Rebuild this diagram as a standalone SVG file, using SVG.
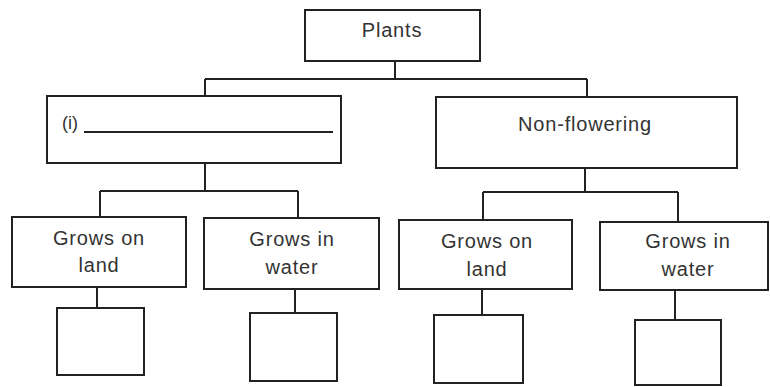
<svg xmlns="http://www.w3.org/2000/svg" width="770" height="387" viewBox="0 0 770 387">
<style>
.box{fill:#fff;stroke:#222;stroke-width:2}
.ln{fill:none;stroke:#222;stroke-width:2}
.t{font-family:"Liberation Sans",Arial,sans-serif;font-size:20px;letter-spacing:0.8px;fill:#333;text-anchor:middle}
</style>
<rect width="770" height="387" fill="#fff"/>
<g id="connectors">
<path class="ln" d="M395 61V79M205 79H587M205 79V96M587 79V97"/>
<path class="ln" d="M205 163V191M100 191H298M100 191V217M298 191V218"/>
<path class="ln" d="M585 168V192M483 192H678M483 192V220M678 192V222"/>
<path class="ln" d="M97 287V308M295 289V313M482 289V315M675 290V320"/>
</g>
<g id="plants"><rect class="box" x="305" y="10" width="175" height="51"/><text class="t" x="392" y="37">Plants</text></g>
<g id="flowering"><rect class="box" x="47" y="96" width="294" height="67"/><text x="62" y="129" style="font-family:'Liberation Sans',Arial,sans-serif;font-size:18px;fill:#333">(i)</text><path class="ln" d="M84 132H333" stroke-width="1.8"/></g>
<g id="nonflowering"><rect class="box" x="436" y="97" width="301" height="71"/><text class="t" x="585" y="131">Non-flowering</text></g>
<g id="land1"><rect class="box" x="12" y="217" width="174" height="70"/><text class="t" x="99" y="245">Grows on</text><text class="t" x="99" y="272">land</text></g>
<g id="water1"><rect class="box" x="204" y="218" width="175" height="71"/><text class="t" x="292" y="246">Grows in</text><text class="t" x="292" y="274">water</text></g>
<g id="land2"><rect class="box" x="399" y="220" width="173" height="69"/><text class="t" x="487" y="248">Grows on</text><text class="t" x="487" y="276">land</text></g>
<g id="water2"><rect class="box" x="600" y="222" width="168" height="68"/><text class="t" x="688" y="248">Grows in</text><text class="t" x="688" y="276">water</text></g>
<g id="blank1"><rect class="box" x="57" y="308" width="87" height="67"/></g>
<g id="blank2"><rect class="box" x="250" y="313" width="87" height="68"/></g>
<g id="blank3"><rect class="box" x="434" y="315" width="89" height="68"/></g>
<g id="blank4"><rect class="box" x="635" y="320" width="86" height="65"/></g>
</svg>
